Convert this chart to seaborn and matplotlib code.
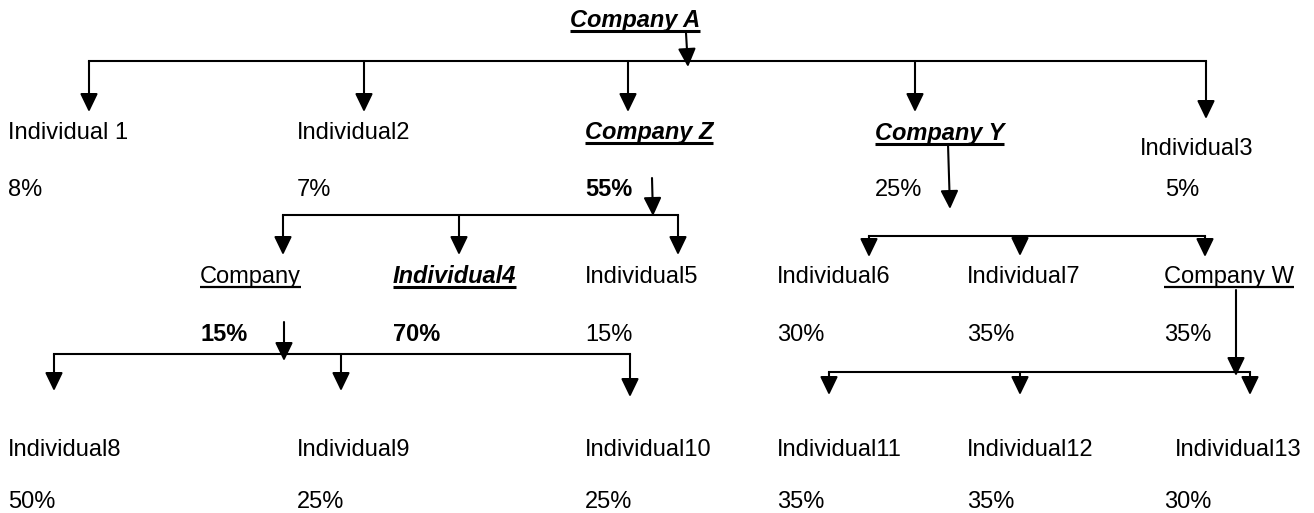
import matplotlib
matplotlib.use("Agg")
import matplotlib.pyplot as plt
import seaborn as sns

# ownership tree: node names, share held in the parent, parent node
names = ["Company A",
         "Individual 1", "Individual2", "Company Z", "Company Y", "Individual3",
         "Company", "Individual4", "Individual5",
         "Individual6", "Individual7", "Company W",
         "Individual8", "Individual9", "Individual10",
         "Individual11", "Individual12", "Individual13"]
shares = [None,
          "8%", "7%", "55%", "25%", "5%",
          "15%", "70%", "15%",
          "30%", "35%", "35%",
          "50%", "25%", "25%",
          "35%", "35%", "30%"]
parents = [None,
           "Company A", "Company A", "Company A", "Company A", "Company A",
           "Company Z", "Company Z", "Company Z",
           "Company Y", "Company Y", "Company Y",
           "Company", "Company", "Company",
           "Company W", "Company W", "Company W"]

# layout (pixel coordinates, y down)
label_pos = {"Company A": (570, 27),
             "Individual 1": (8, 139), "Individual2": (297, 139), "Company Z": (585, 139),
             "Company Y": (875, 140), "Individual3": (1140, 155),
             "Company": (200, 283), "Individual4": (393, 283), "Individual5": (585, 283),
             "Individual6": (777, 283), "Individual7": (967, 283), "Company W": (1164, 283),
             "Individual8": (8, 456), "Individual9": (297, 456), "Individual10": (585, 456),
             "Individual11": (777, 456), "Individual12": (967, 456), "Individual13": (1175, 456)}
share_pos = {"Individual 1": (8, 196), "Individual2": (297, 196), "Company Z": (585, 196),
             "Company Y": (875, 196), "Individual3": (1165, 196),
             "Company": (200, 341), "Individual4": (393, 341), "Individual5": (585, 341),
             "Individual6": (777, 341), "Individual7": (967, 341), "Company W": (1164, 341),
             "Individual8": (8, 508), "Individual9": (297, 508), "Individual10": (585, 508),
             "Individual11": (777, 508), "Individual12": (967, 508), "Individual13": (1164, 508)}
# stem arrow leaving each parent: x0, y0, x1, y1
stems = {"Company A": (686, 33, 688, 67),
         "Company Z": (652, 178, 653, 216),
         "Company Y": (948, 144, 950, 209),
         "Company": (284, 322, 284, 361),
         "Company W": (1236, 290, 1236, 376)}
bus_y = {"Company A": 61, "Company Z": 215, "Company Y": 236, "Company": 354, "Company W": 372}
# drop arrow into each child: x, tip y
drops = {"Individual 1": (89, 112), "Individual2": (364, 112), "Company Z": (628, 112),
         "Company Y": (915, 112), "Individual3": (1206, 119),
         "Company": (283, 255), "Individual4": (459, 255), "Individual5": (678, 255),
         "Individual6": (869, 257), "Individual7": (1020, 256), "Company W": (1205, 257),
         "Individual8": (54, 391), "Individual9": (341, 391), "Individual10": (630, 397),
         "Individual11": (829, 395), "Individual12": (1020, 395), "Individual13": (1250, 395)}

bold_italic_ul = ["Company A", "Company Z", "Company Y", "Individual4"]
plain_ul = ["Company", "Company W"]
bold_shares = ["Company Z", "Company", "Individual4"]

sns.set_theme(style="white")
plt.rcParams["font.family"] = ["Liberation Sans", "DejaVu Sans"]

fig = plt.figure(figsize=(13.14, 5.13), dpi=100)
ax = fig.add_axes([0, 0, 1, 1])
ax.set_xlim(0, 1314)
ax.set_ylim(513, 0)
ax.axis("off")

FS = 17
LW = 1.5
arrow = dict(arrowstyle="-|>,head_length=0.56,head_width=0.27", color="black",
             lw=LW, shrinkA=0, shrinkB=0, mutation_scale=20)


def draw_arrow(x0, y0, x1, y1):
    ax.annotate("", xy=(x1, y1), xytext=(x0, y0), arrowprops=arrow)


texts = []
for name, share in zip(names, shares):
    x, y = label_pos[name]
    weight, style = "normal", "normal"
    if name in bold_italic_ul:
        weight, style = "bold", "italic"
    t = ax.text(x, y, name, fontsize=FS, fontweight=weight, fontstyle=style,
                ha="left", va="baseline", color="black")
    if name in bold_italic_ul or name in plain_ul:
        texts.append((t, 2.2 if name in bold_italic_ul else 1.6))
    if share is not None:
        sx, sy = share_pos[name]
        ax.text(sx, sy, share, fontsize=FS,
                fontweight="bold" if name in bold_shares else "normal",
                ha="left", va="baseline", color="black")

# stems, buses and drops
for parent, (x0, y0, x1, y1) in stems.items():
    draw_arrow(x0, y0, x1, y1)
    kids = [n for n, p in zip(names, parents) if p == parent]
    xs = [drops[k][0] for k in kids]
    by = bus_y[parent]
    ax.plot([min(xs), max(xs)], [by, by], color="black", lw=LW, solid_capstyle="projecting")
    for k in kids:
        dx, ty = drops[k]
        draw_arrow(dx, by, dx, ty)

# underlines below the marked labels
fig.canvas.draw()
inv = ax.transData.inverted()
for t, lw in texts:
    bb = t.get_window_extent()
    (ux0, uy), (ux1, _) = inv.transform([(bb.x0, bb.y0 + 1), (bb.x1, bb.y0 + 1)])
    ax.plot([ux0, ux1], [uy, uy], color="black", lw=lw, solid_capstyle="butt")

fig.savefig("out.png", dpi=100)
